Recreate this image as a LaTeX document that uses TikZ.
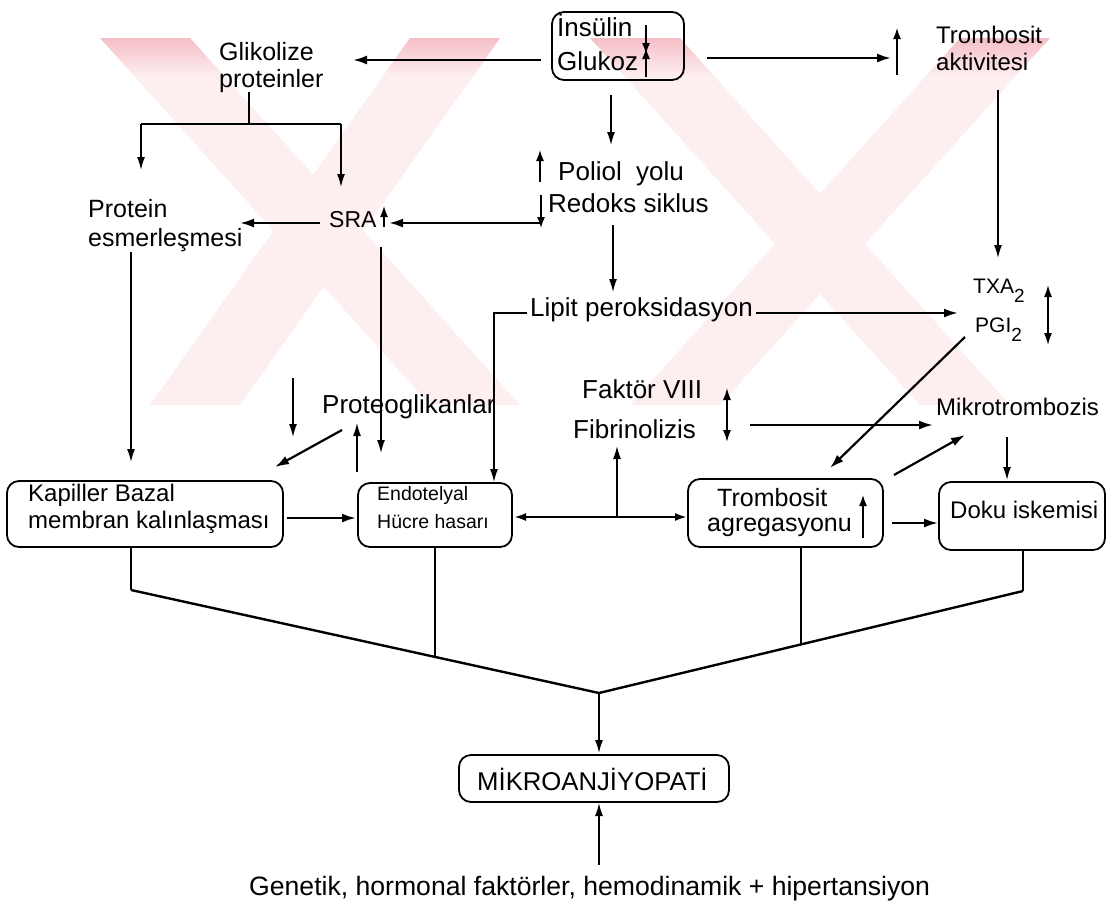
\documentclass[tikz,border=0pt]{standalone}
\usepackage{fontspec}
\setmainfont{Liberation Sans}
\usetikzlibrary{arrows.meta}
\newcommand{\tsz}[1]{\fontsize{#1}{#1}\selectfont}
\definecolor{wmlight}{RGB}{253,238,240}
\definecolor{wmdark}{RGB}{245,190,198}
\begin{document}
\begin{tikzpicture}[x=1pt,y=-1pt,
  box/.style={draw, line width=1.8pt, rounded corners=12pt, inner sep=0pt},
  lbl/.style={inner sep=0pt, anchor=base west},
  arr/.style={line width=2.2pt, -{Latex[length=14pt,width=9pt]}},
  tarr/.style={line width=1.4pt, -{Latex[length=13pt,width=8pt]}},
  darr/.style={line width=1.6pt, {Latex[length=12pt,width=8pt]}-{Latex[length=12pt,width=8pt]}},
  sarr/.style={line width=1.4pt, -{Latex[length=11pt,width=8pt]}},
  tline/.style={line width=1.4pt},
  kline/.style={line width=2.4pt, line join=round}]
\useasboundingbox (0,0) rectangle (1108,906);

% faint logo in the upper half
\def\logo{(100,38)--(190,38)--(520,405)--(430,405)--cycle
          (410,38)--(500,38)--(240,405)--(150,405)--cycle
          (590,38)--(680,38)--(1010,405)--(920,405)--cycle
          (960,38)--(1050,38)--(720,405)--(630,405)--cycle}
\fill[wmlight] \logo;
\begin{scope}
  \clip \logo;
  \shade[top color=wmdark, bottom color=wmlight] (0,38) rectangle (1108,76);
\end{scope}

% ---------- boxes ----------
\node[box, minimum width=132pt, minimum height=68pt] (top) at (618,46) {};
\node[box, minimum width=276pt, minimum height=66pt] (kap) at (145,514) {};
\node[box, minimum width=154pt, minimum height=64pt] (endo) at (435,515) {};
\node[box, minimum width=195pt, minimum height=68pt] (trb) at (785.5,513) {};
\node[box, minimum width=166pt, minimum height=68pt] (doku) at (1022,516) {};
\node[box, minimum width=270pt, minimum height=47pt] (mik) at (594,778.5) {};

% ---------- labels ----------
\node[lbl, font=\tsz{26}] (ins) at (557,36) {İnsülin};
\node[lbl, font=\tsz{26}] (glu) at (557,70) {Glukoz};
\node[lbl, font=\tsz{25}] (gli1) at (219,60) {Glikolize};
\node[lbl, font=\tsz{25}] (gli2) at (219,87) {proteinler};
\node[lbl, font=\tsz{24}] (ta1) at (936,43) {Trombosit};
\node[lbl, font=\tsz{24}] (ta2) at (936,70) {aktivitesi};
\node[lbl, font=\tsz{26}] (pol) at (558,180) {Poliol\ \ yolu};
\node[lbl, font=\tsz{26}] (red) at (548,212) {Redoks siklus};
\node[lbl, font=\tsz{25}] (pro1) at (88,217) {Protein};
\node[lbl, font=\tsz{25}] (pro2) at (88,246) {esmerleşmesi};
\node[lbl, font=\tsz{23}] (sra) at (329,227) {SRA};
\node[lbl, font=\tsz{26}] (lip) at (530,316) {Lipit peroksidasyon};
\node[lbl, font=\tsz{21}] (txa) at (973,293) {TXA\raisebox{-9pt}{\tsz{19}2}};
\node[lbl, font=\tsz{21}] (pgi) at (975,332) {PGI\raisebox{-9pt}{\tsz{19}2}};
\node[lbl, font=\tsz{26}] (fak) at (582,398) {Faktör VIII};
\node[lbl, font=\tsz{26}] (fib) at (573,438) {Fibrinolizis};
\node[lbl, font=\tsz{26}] (ptg) at (322,413) {Proteoglikanlar};
\node[lbl, font=\tsz{24}] (mtr) at (936,415) {Mikrotrombozis};
\node[lbl, font=\tsz{24}] (kap1) at (28,501) {Kapiller Bazal};
\node[lbl, font=\tsz{24}] (kap2) at (28,528) {membran kalınlaşması};
\node[lbl, font=\tsz{19.5}] (end1) at (377,500) {Endotelyal};
\node[lbl, font=\tsz{19.5}] (end2) at (377,528) {Hücre hasarı};
\node[lbl, font=\tsz{25}] (trb1) at (717,506) {Trombosit};
\node[lbl, font=\tsz{25}] (trb2) at (707,531) {agregasyonu};
\node[lbl, font=\tsz{24}] (dok) at (950,518) {Doku iskemisi};
\node[lbl, font=\tsz{25.7}] (mikt) at (477,790) {MİKROANJİYOPATİ};
\node[lbl, font=\tsz{26.6}] (gen) at (249,895) {Genetik, hormonal faktörler, hemodinamik + hipertansiyon};

% ---------- connector ends ----------
\coordinate (a1s) at (541,60);   \coordinate (a1e) at (353,60);
\coordinate (a2s) at (707,58);   \coordinate (a2e) at (891,58);
\coordinate (u1s) at (897,75);   \coordinate (u1e) at (897,28);
\coordinate (d1s) at (646,25);   \coordinate (d1e) at (646,54);
\coordinate (u2s) at (646,77);   \coordinate (u2e) at (646,48);
\coordinate (a3s) at (611,95);   \coordinate (a3e) at (611,145);
\coordinate (a4s) at (998,90);   \coordinate (a4e) at (998,258);
\coordinate (g0) at (249,92);    \coordinate (g1) at (249,124);
\coordinate (gl) at (141,124);   \coordinate (gr) at (341,124);
\coordinate (gle) at (141,170);  \coordinate (gre) at (341,187);
\coordinate (u3s) at (540,182);  \coordinate (u3e) at (540,150);
\coordinate (d3s) at (541,195);  \coordinate (d3e) at (541,228);
\coordinate (a5s) at (540,223);  \coordinate (a5e) at (389,223);
\coordinate (a6s) at (320,223);  \coordinate (a6e) at (240,223);
\coordinate (u4s) at (384,227);  \coordinate (u4e) at (384,206);
\coordinate (a7s) at (381,247);  \coordinate (a7e) at (381,453);
\coordinate (a8s) at (131,252);  \coordinate (a8e) at (131,462);
\coordinate (a9s) at (613,225);  \coordinate (a9e) at (613,292);
\coordinate (l0) at (527,313);   \coordinate (l1) at (494,313);
\coordinate (l2) at (494,482);
\coordinate (a10s) at (756,313); \coordinate (a10e) at (958,313);
\coordinate (d4s) at (1048,285); \coordinate (d4e) at (1048,345);
\coordinate (a11s) at (965,337); \coordinate (a11e) at (830,468);
\coordinate (a12s) at (293,378); \coordinate (a12e) at (293,437);
\coordinate (a13s) at (342,430); \coordinate (a13e) at (275,467);
\coordinate (a14s) at (357,472); \coordinate (a14e) at (357,423);
\coordinate (d5s) at (727,388);  \coordinate (d5e) at (727,442);
\coordinate (a15s) at (750,425); \coordinate (a15e) at (933,425);
\coordinate (a16s) at (894,475); \coordinate (a16e) at (965,435);
\coordinate (a17s) at (1007,437);\coordinate (a17e) at (1007,480);
\coordinate (a18s) at (287,518); \coordinate (a18e) at (356,518);
\coordinate (d6s) at (514,517);  \coordinate (d6e) at (687,517);
\coordinate (a19s) at (617,517); \coordinate (a19e) at (617,446);
\coordinate (u5s) at (863,538);  \coordinate (u5e) at (863,495);
\coordinate (a20s) at (892,523); \coordinate (a20e) at (938,523);
\coordinate (t1) at (131,547);   \coordinate (t1b) at (131,590);
\coordinate (t2) at (435,547);   \coordinate (t2b) at (435,657);
\coordinate (t3) at (801,547);   \coordinate (t3b) at (801,644);
\coordinate (t4) at (1023,550);  \coordinate (t4b) at (1023,591);
\coordinate (tc) at (599,693);   \coordinate (tce) at (599,753);
\coordinate (gs) at (599,865);   \coordinate (ge) at (599,803);

% ---------- connectors ----------
\draw[arr] (a1s) -- (a1e);
\draw[arr] (a2s) -- (a2e);
\draw[sarr] (u1s) -- (u1e);
\draw[sarr] (d1s) -- (d1e);
\draw[sarr] (u2s) -- (u2e);
\draw[tarr] (a3s) -- (a3e);
\draw[tarr] (a4s) -- (a4e);
\draw[tline] (g0) -- (g1);
\draw[tline] (gl) -- (gr);
\draw[tarr] (gl) -- (gle);
\draw[tarr] (gr) -- (gre);
\draw[sarr] (u3s) -- (u3e);
\draw[sarr] (d3s) -- (d3e);
\draw[arr] (a5s) -- (a5e);
\draw[arr] (a6s) -- (a6e);
\draw[sarr] (u4s) -- (u4e);
\draw[tarr] (a7s) -- (a7e);
\draw[tarr] (a8s) -- (a8e);
\draw[tarr] (a9s) -- (a9e);
\draw[tarr] (l0) -- (l1) -- (l2);
\draw[arr] (a10s) -- (a10e);
\draw[darr] (d4s) -- (d4e);
\draw[arr] (a11s) -- (a11e);
\draw[tarr] (a12s) -- (a12e);
\draw[arr] (a13s) -- (a13e);
\draw[tarr] (a14s) -- (a14e);
\draw[darr] (d5s) -- (d5e);
\draw[arr] (a15s) -- (a15e);
\draw[arr] (a16s) -- (a16e);
\draw[tarr] (a17s) -- (a17e);
\draw[arr] (a18s) -- (a18e);
\draw[darr, line width=2.2pt] (d6s) -- (d6e);
\draw[tarr] (a19s) -- (a19e);
\draw[sarr] (u5s) -- (u5e);
\draw[arr] (a20s) -- (a20e);
\draw[tline] (t1) -- (t1b);
\draw[tline] (t2) -- (t2b);
\draw[tline] (t3) -- (t3b);
\draw[tline] (t4) -- (t4b);
\draw[kline] (t1b) -- (tc) -- (t4b);
\draw[tarr] (tc) -- (tce);
\draw[tarr] (gs) -- (ge);
\end{tikzpicture}
\end{document}
